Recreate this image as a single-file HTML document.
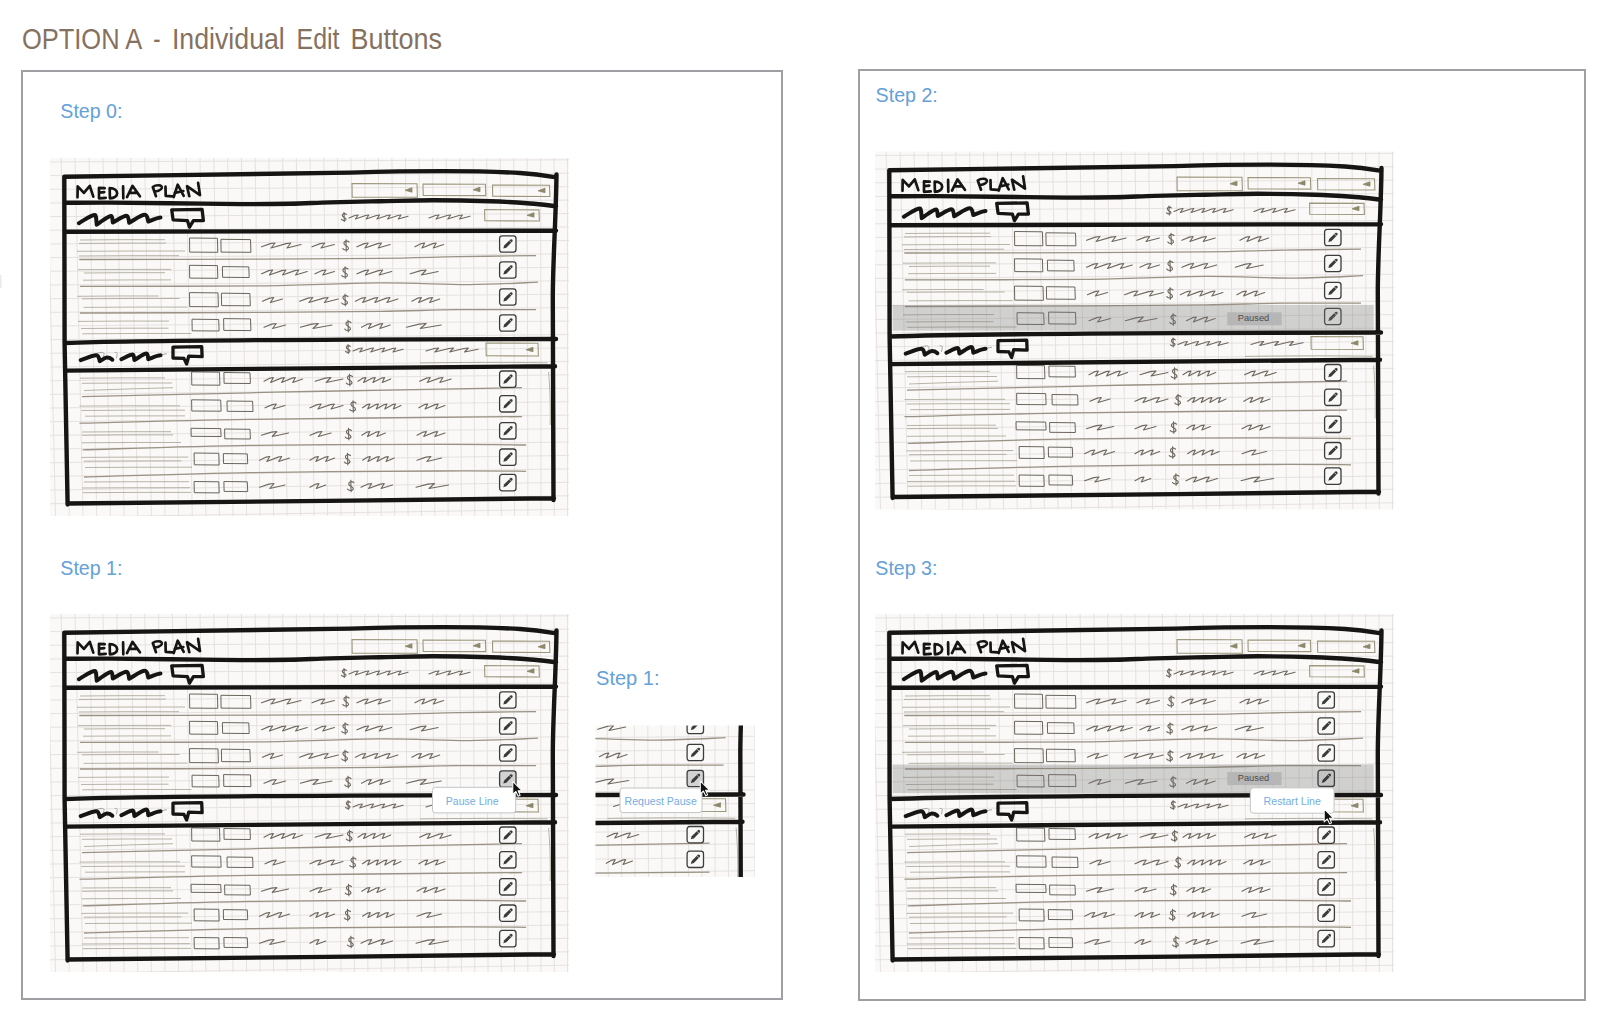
<!DOCTYPE html>
<html><head><meta charset="utf-8"><title>Option A - Individual Edit Buttons</title>
<style>
html,body{margin:0;padding:0;background:#fff;}
body{width:1614px;height:1026px;overflow:hidden;position:relative;font-family:"Liberation Sans",sans-serif;}
svg{position:absolute;left:0;top:0;}
text{font-family:"Liberation Sans",sans-serif;}
</style></head><body>
<svg width="1614" height="1026" viewBox="0 0 1614 1026">
<defs>
<g id="sk">
<rect x="0" y="1" width="519" height="358" fill="#faf9f7"/>
<svg x="0" y="1" width="519" height="358" viewBox="0 1 519 358" overflow="hidden"><path d="M-2.83,1 L5.55,359 M11.14,1 L19.29,359 M25.10,1 L33.01,359 M39.04,1 L46.72,359 M52.97,1 L60.41,359 M66.88,1 L74.09,359 M80.77,1 L87.76,359 M94.66,1 L101.41,359 M108.52,1 L115.04,359 M122.37,1 L128.66,359 M136.21,1 L142.27,359 M150.03,1 L155.87,359 M163.84,1 L169.45,359 M177.63,1 L183.01,359 M191.40,1 L196.56,359 M205.16,1 L210.10,359 M218.91,1 L223.62,359 M232.64,1 L237.13,359 M246.35,1 L250.62,359 M260.05,1 L264.10,359 M273.74,1 L277.57,359 M287.41,1 L291.02,359 M301.06,1 L304.46,359 M314.70,1 L317.88,359 M328.33,1 L331.29,359 M341.94,1 L344.68,359 M355.53,1 L358.06,359 M369.11,1 L371.43,359 M382.67,1 L384.78,359 M396.22,1 L398.12,359 M409.76,1 L411.44,359 M423.28,1 L424.75,359 M436.78,1 L438.04,359 M450.27,1 L451.32,359 M463.74,1 L464.59,359 M477.20,1 L477.84,359 M490.64,1 L491.08,359 M504.07,1 L504.30,359 M517.48,1 L517.51,359 M0,4.92 L519,2.80 M0,18.60 L519,16.24 M0,32.27 L519,29.68 M0,45.94 L519,43.12 M0,59.62 L519,56.56 M0,73.29 L519,70.00 M0,86.96 L519,83.44 M0,100.64 L519,96.88 M0,114.31 L519,110.32 M0,127.98 L519,123.75 M0,141.66 L519,137.19 M0,155.33 L519,150.63 M0,169.01 L519,164.07 M0,182.68 L519,177.51 M0,196.35 L519,190.95 M0,210.03 L519,204.39 M0,223.70 L519,217.83 M0,237.37 L519,231.27 M0,251.05 L519,244.71 M0,264.72 L519,258.15 M0,278.39 L519,271.59 M0,292.07 L519,285.02 M0,305.74 L519,298.46 M0,319.41 L519,311.90 M0,333.09 L519,325.34 M0,346.76 L519,338.78 M0,360.43 L519,352.22" stroke="#e3dfdf" stroke-width="0.9" fill="none"/></svg>
<path d="M498.6,215 C499.8,230 500.6,245 500.2,268 M370,205.9 C420,205.2 470,205.3 497.6,205.9 M30.0,83.0 Q72.5,82.5 115.0,82.7 M29.0,86.4 Q72.5,86.0 116.0,86.1 M27.0,94.3 Q81.0,93.9 135.0,94.0 M29.0,99.0 Q79.0,98.5 129.0,98.7 M28.0,112.7 Q74.5,112.3 121.0,112.4 M34.0,116.0 Q74.5,115.5 115.0,115.7 M33.0,123.2 Q77.0,122.8 121.0,122.9 M27.0,139.3 Q67.8,138.8 108.6,139.0 M32.0,141.8 Q80.8,141.3 129.6,141.5 M33.6,150.4 Q85.6,149.9 137.7,150.1 M28.0,164.4 Q73.5,163.9 119.0,164.1 M31.0,171.5 Q74.8,171.0 118.5,171.2 M32.3,176.8 Q86.8,176.3 141.4,176.5 M30.0,221.2 Q72.5,220.7 115.0,220.9 M32.0,226.3 Q77.0,225.8 122.0,226.0 M34.0,233.5 Q78.5,231.8 123.0,230.7 M29.5,249.1 Q79.8,248.6 130.0,248.8 M31.4,253.5 Q83.2,253.0 135.0,253.2 M35.0,259.2 Q85.0,258.7 135.0,258.9 M32.0,275.0 Q76.5,274.6 121.0,274.7 M32.0,278.2 Q77.5,277.7 123.0,277.9 M32.0,285.8 Q81.5,285.3 131.0,285.5 M31.4,300.4 Q84.9,299.9 138.4,300.1 M34.0,304.2 Q82.8,303.7 131.5,303.9 M35.0,310.5 Q88.5,310.1 142.0,310.2 M34.0,325.0 Q86.5,324.6 139.0,324.7 M32.0,331.0 Q86.0,330.6 140.0,330.7 M32.7,335.7 Q86.8,335.2 141.0,335.4" fill="none" stroke="#9f9889" stroke-width="0.8" opacity="0.9"/>
<path d="M29.3,102.5 C60.2,102.4 164.9,102.3 215.0,102.1 C265.1,101.9 297.8,101.8 330.0,101.4 C362.2,101.0 382.0,100.2 408.0,99.7 C434.0,99.2 473.0,98.8 486.0,98.6 M29.9,129.4 C60.8,129.3 165.0,129.4 215.0,128.8 C265.0,128.2 296.0,126.1 330.0,125.9 C364.0,125.7 392.7,127.7 419.0,127.6 C445.3,127.5 476.5,125.6 488.0,125.2 M29.9,156.0 C60.8,155.9 165.0,155.7 215.0,155.4 C265.0,155.1 297.8,154.9 330.0,154.4 C362.2,153.9 382.0,153.0 408.0,152.7 C434.0,152.4 473.0,152.7 486.0,152.7 M32.0,239.6 C60.0,239.0 162.0,236.7 200.0,235.8 C238.0,235.0 214.7,235.4 260.0,234.5 C305.3,233.6 436.7,231.2 472.0,230.6 M29.5,266.2 C57.9,265.6 126.2,263.5 200.0,262.4 C273.8,261.3 426.7,260.1 472.0,259.6 M32.7,292.8 C60.6,292.1 140.4,289.3 200.0,288.4 C259.6,287.5 344.0,287.4 390.0,287.3 C436.0,287.2 461.7,287.9 476.0,288.0 M34.0,320.0 C61.7,319.3 140.7,316.6 200.0,315.6 C259.3,314.6 344.0,314.2 390.0,314.0 C436.0,313.8 461.7,314.2 476.0,314.3" fill="none" stroke="#9a9284" stroke-width="1.3"/>
<path d="M139.5,81.0 L167.4,81.3 L167.8,95.3 L139.7,95.1 Z M170.9,82.3 L200.5,82.6 L200.9,95.3 L171.1,95.1 Z M139.5,108.3 L167.4,108.6 L167.8,121.3 L139.7,121.1 Z M172.4,109.6 L198.8,109.9 L199.2,120.5 L172.6,120.3 Z M139.5,135.6 L168.0,135.9 L168.4,149.8 L139.7,149.6 Z M171.4,136.2 L199.9,136.5 L200.3,148.8 L171.6,148.6 Z M142.0,162.2 L168.7,162.5 L169.1,174.0 L142.2,173.8 Z M173.6,161.6 L200.5,161.9 L200.9,173.6 L173.8,173.4 Z M141.6,214.9 L169.5,215.2 L169.9,228.2 L141.8,228.0 Z M173.9,215.5 L200.0,215.8 L200.4,226.5 L174.1,226.3 Z M141.6,242.8 L170.7,243.1 L171.1,254.2 L141.8,254.0 Z M177.0,244.0 L202.6,244.3 L203.0,254.5 L177.2,254.3 Z M141.0,271.3 L170.7,271.6 L171.1,279.5 L141.2,279.3 Z M174.6,272.0 L200.0,272.3 L200.4,282.0 L174.8,281.8 Z M144.1,296.0 L168.8,296.3 L169.2,308.0 L144.3,307.8 Z M173.3,296.6 L197.3,296.9 L197.7,306.7 L173.5,306.5 Z M144.1,324.5 L168.8,324.8 L169.2,335.9 L144.3,335.7 Z M173.9,324.5 L197.3,324.8 L197.7,334.6 L174.1,334.4 Z" fill="none" stroke="#6a655d" stroke-width="1.0"/>
<path d="M296.3,57.3 C294.9,55.9 291.5,56.8 292.6,59.1 C293.6,60.7 296.7,60.5 295.8,62.7 C294.9,64.1 292.2,63.6 291.5,62.3 M294.0,55.5 L294.3,64.5 M299.0,61.0 L304.9,58.5 L308.1,58.0 L305.4,62.0 L315.6,58.5 L318.8,58.0 L316.2,62.0 L326.4,58.5 L329.6,58.0 L326.9,62.0 L337.1,58.5 L340.3,58.0 L337.6,62.0 L347.8,58.5 L351.0,58.0 L348.3,62.0 L358.0,59.2 M379.0,61.0 L385.4,58.5 L389.0,58.0 L386.0,62.0 L397.2,58.5 L400.7,58.0 L397.7,62.0 L408.9,58.5 L412.4,58.0 L409.5,62.0 L420.0,59.2 M300.3,189.3 C298.9,187.9 295.5,188.8 296.6,191.1 C297.6,192.7 300.7,192.4 299.8,194.7 C298.9,196.1 296.2,195.6 295.5,194.3 M298.0,187.5 L298.3,196.5 M303.0,194.0 L309.1,191.5 L312.4,191.0 L309.7,195.0 L320.2,191.5 L323.6,191.0 L320.8,195.0 L331.3,191.5 L334.7,191.0 L331.9,195.0 L342.4,191.5 L345.8,191.0 L343.0,195.0 L353.0,192.2 M376.0,194.0 L384.2,191.5 L388.6,191.0 L384.9,195.0 L399.0,191.5 L403.5,191.0 L399.8,195.0 L413.9,191.5 L418.3,191.0 L414.6,195.0 L428.0,192.2 M211.6,89.8 L220.3,86.6 L225.0,86.0 L221.1,91.0 L236.1,86.6 L240.8,86.0 L236.9,91.0 L251.1,87.5 M262.0,89.8 L270.2,86.6 L274.7,86.0 L271.0,91.0 L284.4,87.5 M306.9,89.8 L314.2,86.6 L318.2,86.0 L314.9,91.0 L327.5,86.6 L331.5,86.0 L328.2,91.0 L340.2,87.5 M365.0,89.8 L371.3,86.6 L374.7,86.0 L371.9,91.0 L382.7,86.6 L386.2,86.0 L383.3,91.0 L393.6,87.5 M299.0,85.0 C297.1,83.2 292.8,84.4 294.3,87.3 C295.4,89.4 299.4,89.1 298.3,92.0 C297.1,93.8 293.7,93.1 292.8,91.5 M296.0,82.8 L296.3,94.2 M211.6,116.8 L218.8,113.6 L222.7,113.0 L219.4,118.0 L231.8,113.6 L235.8,113.0 L232.5,118.0 L244.9,113.6 L248.8,113.0 L245.5,118.0 L257.3,114.5 M265.0,116.8 L272.1,113.6 L276.0,113.0 L272.8,118.0 L284.4,114.5 M306.9,116.8 L314.6,113.6 L318.7,113.0 L315.3,118.0 L328.5,113.6 L332.7,113.0 L329.2,118.0 L341.7,114.5 M360.3,116.8 L370.5,113.6 L376.1,113.0 L371.5,118.0 L388.2,114.5 M298.0,112.0 C296.1,110.2 291.8,111.4 293.3,114.3 C294.4,116.4 298.4,116.1 297.3,119.0 C296.1,120.8 292.7,120.1 291.8,118.5 M295.0,109.8 L295.3,121.2 M212.4,144.2 L219.8,141.1 L223.8,140.5 L220.4,145.5 L232.5,142.0 M249.6,144.2 L258.1,141.1 L262.8,140.5 L258.9,145.5 L273.6,141.1 L278.2,140.5 L274.4,145.5 L288.3,142.0 M305.3,144.2 L312.0,141.1 L315.6,140.5 L312.6,145.5 L324.2,141.1 L327.8,140.5 L324.8,145.5 L336.3,141.1 L340.0,140.5 L336.9,145.5 L347.9,142.0 M361.9,144.2 L368.0,141.1 L371.4,140.5 L368.6,145.5 L379.1,141.1 L382.5,140.5 L379.7,145.5 L389.7,142.0 M298.0,139.6 C296.1,137.7 291.8,138.9 293.3,141.8 C294.4,143.9 298.4,143.6 297.3,146.4 C296.1,148.3 292.7,147.6 291.8,146.0 M295.0,137.2 L295.3,148.8 M214.0,170.2 L221.9,167.1 L226.2,166.5 L222.6,171.5 L235.6,168.0 M250.3,170.2 L261.9,167.1 L268.3,166.5 L263.0,171.5 L282.0,168.0 M311.5,170.2 L317.8,167.1 L321.3,166.5 L318.4,171.5 L329.3,167.1 L332.7,166.5 L329.9,171.5 L340.2,168.0 M356.4,170.2 L369.2,167.1 L376.2,166.5 L370.4,171.5 L391.3,168.0 M301.0,165.6 C299.1,163.7 294.8,164.9 296.3,167.8 C297.4,169.9 301.4,169.6 300.3,172.4 C299.1,174.3 295.7,173.6 294.8,172.0 M298.0,163.2 L298.3,174.8 M214.0,224.2 L220.1,221.1 L223.4,220.5 L220.6,225.5 L231.1,221.1 L234.4,220.5 L231.6,225.5 L242.1,221.1 L245.4,220.5 L242.7,225.5 L252.6,222.0 M265.0,224.2 L275.3,221.1 L280.9,220.5 L276.2,225.5 L293.0,222.0 M308.0,224.2 L313.1,221.1 L315.9,220.5 L313.6,225.5 L322.5,221.1 L325.3,220.5 L322.9,225.5 L331.8,221.1 L334.6,220.5 L332.3,225.5 L340.7,222.0 M369.6,224.2 L376.6,221.1 L380.3,220.5 L377.2,225.5 L389.2,221.1 L393.0,220.5 L389.8,225.5 L401.2,222.0 M302.5,219.6 C300.6,217.7 296.3,218.9 297.8,221.8 C298.9,223.9 302.9,223.6 301.8,226.4 C300.6,228.3 297.2,227.6 296.3,226.0 M299.5,217.2 L299.8,228.8 M215.0,250.8 L222.3,247.6 L226.3,247.0 L223.0,252.0 L235.0,248.5 M260.0,250.8 L267.3,247.6 L271.2,247.0 L267.9,252.0 L280.5,247.6 L284.4,247.0 L281.1,252.0 L293.0,248.5 M312.6,250.8 L317.3,247.6 L319.9,247.0 L317.7,252.0 L325.8,247.6 L328.4,247.0 L326.3,252.0 L334.4,247.6 L336.9,247.0 L334.8,252.0 L342.9,247.6 L345.5,247.0 L343.3,252.0 L351.0,248.5 M368.8,250.8 L374.6,247.6 L377.7,247.0 L375.1,252.0 L385.0,247.6 L388.2,247.0 L385.6,252.0 L395.0,248.5 M306.0,246.1 C304.1,244.2 299.8,245.4 301.3,248.3 C302.4,250.4 306.4,250.1 305.3,252.9 C304.1,254.8 300.7,254.1 299.8,252.5 M303.0,243.8 L303.3,255.2 M211.4,278.2 L221.4,275.1 L226.8,274.5 L222.3,279.5 L238.6,276.0 M260.0,278.2 L267.7,275.1 L271.9,274.5 L268.4,279.5 L281.0,276.0 M311.8,278.2 L317.0,275.1 L319.8,274.5 L317.5,279.5 L326.4,275.1 L329.3,274.5 L326.9,279.5 L335.4,276.0 M367.0,278.2 L373.2,275.1 L376.5,274.5 L373.7,279.5 L384.4,275.1 L387.7,274.5 L384.9,279.5 L395.0,276.0 M301.5,273.6 C299.6,271.7 295.3,272.9 296.8,275.9 C297.9,277.9 301.9,277.6 300.8,280.4 C299.6,282.3 296.2,281.6 295.3,280.0 M298.5,271.2 L298.8,282.8 M209.6,303.2 L216.2,300.1 L219.8,299.5 L216.8,304.5 L228.1,300.1 L231.7,299.5 L228.7,304.5 L239.5,301.0 M260.0,303.2 L265.4,300.1 L268.4,299.5 L265.9,304.5 L275.3,300.1 L278.2,299.5 L275.7,304.5 L284.6,301.0 M312.6,303.2 L317.6,300.1 L320.3,299.5 L318.0,304.5 L326.6,300.1 L329.3,299.5 L327.0,304.5 L335.6,300.1 L338.3,299.5 L336.1,304.5 L344.2,301.0 M367.0,303.2 L376.0,300.1 L380.9,299.5 L376.8,304.5 L391.6,301.0 M300.5,298.6 C298.6,296.7 294.3,297.9 295.8,300.9 C296.9,302.9 300.9,302.6 299.8,305.4 C298.6,307.3 295.2,306.6 294.3,305.0 M297.5,296.2 L297.8,307.8 M209.6,330.2 L218.9,327.1 L224.0,326.5 L219.8,331.5 L235.0,328.0 M260.0,330.2 L265.8,327.1 L269.0,326.5 L266.3,331.5 L275.8,328.0 M311.0,330.2 L317.9,327.1 L321.7,326.5 L318.6,331.5 L330.5,327.1 L334.3,326.5 L331.2,331.5 L342.5,328.0 M366.0,330.2 L378.0,327.1 L384.5,326.5 L379.0,331.5 L398.6,328.0 M303.8,325.6 C301.9,323.7 297.6,324.9 299.1,327.9 C300.2,329.9 304.2,329.6 303.1,332.4 C301.9,334.3 298.5,333.6 297.6,332.0 M300.8,323.2 L301.1,334.8" fill="none" stroke="#6f695f" stroke-width="1.15" stroke-linejoin="round" stroke-linecap="round"/>
<path d="M302.0,26.5 L367.0,26.8 L367.4,40.3 L302.2,40.1 Z M373.0,27.0 L435.4,27.3 L435.8,38.6 L373.2,38.4 Z M442.5,28.0 L499.5,28.3 L499.9,39.5 L442.7,39.3 Z M434.6,52.6 L489.0,52.9 L489.4,64.0 L434.8,63.8 Z M436.0,186.0 L488.0,186.3 L488.4,199.0 L436.2,198.8 Z" fill="none" stroke="#9c977c" stroke-width="1.1"/>
<path d="M355.0,33.3 L362.0,30.7 L362.0,35.2 Z M423.0,32.8 L430.0,30.2 L430.0,34.7 Z M488.0,33.8 L495.0,31.2 L495.0,35.7 Z M477.0,58.3 L484.0,55.7 L484.0,60.2 Z M476.0,192.8 L483.0,190.2 L483.0,194.7 Z" fill="#8d886a" stroke="#8d886a" stroke-width="0.8" stroke-linejoin="round"/>
<path d="M14.3,19.7 C110,18.5 220,16.8 300,15.6 C370,13.6 430,13.6 470,16 C490,17.5 500,19.5 506.5,20.5 M506.5,17.5 C506,60 503,100 502.8,140 C502.8,220 503.2,300 503.5,343 M14.3,19.7 C14,100 14.3,160 14.6,186 C15.5,260 16.8,320 17.6,347.5 M17.5,346.5 C150,345.2 350,343.2 504,341.3 M14.5,45.8 C22.1,45.8 42.4,45.5 60.0,45.6 C77.6,45.7 98.3,46.0 120.0,46.2 C141.7,46.5 170.0,47.0 190.0,47.1 C210.0,47.2 225.0,47.1 240.0,46.8 C255.0,46.5 265.0,45.8 280.0,45.4 C295.0,45.0 312.8,44.6 330.0,44.2 C347.2,43.9 364.7,43.3 383.0,43.3 C401.3,43.3 423.8,43.7 440.0,44.2 C456.2,44.7 469.0,45.7 480.0,46.5 C491.0,47.3 501.7,48.8 506.0,49.2 M14.5,74.8 C150,73.8 300,73 506,73.6 M14.8,186 C60,184.3 150,183.3 300,182.6 C400,182.2 470,182 506,182 M15.5,213.6 C100,212 300,209.6 505,209.2" fill="none" stroke="#161514" stroke-width="4.4" stroke-linecap="round" stroke-linejoin="round"/>
<path d="M27.5,40.3 L27.7,29.4 L33.9,35.9 L39.8,28.9 L43.3,39.6 M54.7,31.2 L49.0,30.9 L49.0,41.3 L55.7,40.8 M49.5,35.6 L54.2,35.1 M59.7,31.2 L59.9,41.3 M59.7,31.2 C69.6,31.7 69.6,40.8 59.9,41.3 M73.1,29.4 L73.3,41.3 M77.0,40.1 L82.5,28.9 L89.9,39.3 M79.5,35.9 L86.9,35.6 M106,39.2 L102.8,30 C106,27.5 112.5,27.5 111.8,31 C111,33.8 106,34.4 104.7,34.3 M115.5,29.7 L115.7,38.8 L122.5,39.4 M123.7,40.0 L127.7,27.7 L133.7,38.8 M124.8,35.9 L133.3,34.0 M139.3,39.2 L137.0,29.2 L150.0,38.1 L148.1,25.8" fill="none" stroke="#161514" stroke-width="2.7" stroke-linecap="round" stroke-linejoin="round"/>
<path d="M43.5,197.5 C50,195 57,193.5 53,200 M65,195.5 C67,195 68,195 66.5,201 M110,198 L116.5,196.8" fill="none" stroke="#a39d90" stroke-width="0.9" stroke-linecap="round"/>
<path d="M28.9,66.2 C35.3,62.5 41.0,58.0 45.0,58.0 C46.2,58.0 46.4,63.8 46.7,67.7 C52.6,63.7 57.8,58.9 61.5,58.9 C62.4,58.9 62.5,62.9 62.8,65.6 C68.3,62.5 73.1,58.7 76.6,58.7 C78.4,58.7 78.7,63.0 79.2,65.8 C85.5,62.2 91.0,57.8 94.9,57.8 C97.3,57.8 97.6,61.8 98.3,64.5 C103.2,62.7 107.5,60.4 110.5,60.4 M30.7,203.1 C36.9,200.9 42.4,198.2 46.3,198.2 C48.8,198.2 49.1,201.8 49.8,204.2 C52.6,202.5 55.0,200.5 56.7,200.5 C60.6,200.5 61.2,201.8 62.3,202.7 M71.4,202.2 C75.9,200.1 79.9,197.5 82.7,197.5 C83.9,197.5 84.1,200.9 84.4,203.1 C89.3,200.2 93.5,196.6 96.6,196.6 C97.8,196.6 98.0,200.0 98.3,202.2 C103.2,200.4 107.5,198.3 110.5,198.3" fill="none" stroke="#161514" stroke-width="4" stroke-linecap="round" stroke-linejoin="round"/>
<path d="M137.4,63.6 L123.1,62.8 L121.7,52.8 L152.1,52.4 L153.4,63.6 L143.4,63.6 L139.5,70.2 L137.4,63.6 M133.9,201.4 L123.0,201.0 L123.0,190.1 L151.7,189.7 L152.1,199.6 L138.7,199.2 L136.6,207.0 L133.9,201.4" fill="none" stroke="#161514" stroke-width="3.3" stroke-linecap="round" stroke-linejoin="round"/>
</g>
<clipPath id="crop"><rect x="358" y="113" width="159.5" height="151.5"/></clipPath>
</defs>
<rect x="0" y="0" width="1614" height="1026" fill="#ffffff"/>
<rect x="0" y="275" width="1.5" height="13" fill="#ebe9e6"/>
<text x="21.90" y="49" font-size="28.6" fill="#857160" textLength="120.35" lengthAdjust="spacingAndGlyphs">OPTION A</text><text x="153.30" y="49" font-size="28.6" fill="#857160" textLength="7.26" lengthAdjust="spacingAndGlyphs">-</text><text x="171.90" y="49" font-size="28.6" fill="#857160" textLength="112.91" lengthAdjust="spacingAndGlyphs">Individual</text><text x="296.60" y="49" font-size="28.6" fill="#857160" textLength="42.96" lengthAdjust="spacingAndGlyphs">Edit</text><text x="350.50" y="49" font-size="28.6" fill="#857160" textLength="91.53" lengthAdjust="spacingAndGlyphs">Buttons</text>
<rect x="22" y="71" width="760" height="928" fill="none" stroke="#9d9fa3" stroke-width="2"/>
<rect x="859" y="70" width="726" height="930" fill="none" stroke="#9d9fa3" stroke-width="2"/>
<g font-size="20" fill="#64a1d9">
<text x="60.30" y="118.2" font-size="20" fill="#64a1d9" textLength="62.18" lengthAdjust="spacingAndGlyphs">Step 0:</text><text x="60.30" y="574.8" font-size="20" fill="#64a1d9" textLength="62.18" lengthAdjust="spacingAndGlyphs">Step 1:</text><text x="875.60" y="102.4" font-size="20" fill="#64a1d9" textLength="62.18" lengthAdjust="spacingAndGlyphs">Step 2:</text><text x="875.30" y="574.8" font-size="20" fill="#64a1d9" textLength="62.18" lengthAdjust="spacingAndGlyphs">Step 3:</text><text x="596.00" y="685.2" font-size="20" fill="#64a1d9" textLength="63.58" lengthAdjust="spacingAndGlyphs">Step 1:</text>
</g>

<g transform="translate(50,157)"><use href="#sk"/><g transform="translate(449.0,78.2)"><rect x="0.6" y="0.6" width="16.4" height="16.4" rx="2.6" fill="#f8f8f7" stroke="#3c3c3c" stroke-width="1.3"/><path d="M4.3,13.4 L5.2,10.4 L11.3,4.3 Q12.2,3.6 13.1,4.4 L13.3,4.6 Q14,5.5 13.3,6.4 L7.3,12.5 Z" fill="#3a3a3a"/><path d="M10.4,5.3 L12.4,7.3" stroke="#f8f8f7" stroke-width="0.7"/></g>
<g transform="translate(449.0,104.2)"><rect x="0.6" y="0.6" width="16.4" height="16.4" rx="2.6" fill="#f8f8f7" stroke="#3c3c3c" stroke-width="1.3"/><path d="M4.3,13.4 L5.2,10.4 L11.3,4.3 Q12.2,3.6 13.1,4.4 L13.3,4.6 Q14,5.5 13.3,6.4 L7.3,12.5 Z" fill="#3a3a3a"/><path d="M10.4,5.3 L12.4,7.3" stroke="#f8f8f7" stroke-width="0.7"/></g>
<g transform="translate(449.0,131.2)"><rect x="0.6" y="0.6" width="16.4" height="16.4" rx="2.6" fill="#f8f8f7" stroke="#3c3c3c" stroke-width="1.3"/><path d="M4.3,13.4 L5.2,10.4 L11.3,4.3 Q12.2,3.6 13.1,4.4 L13.3,4.6 Q14,5.5 13.3,6.4 L7.3,12.5 Z" fill="#3a3a3a"/><path d="M10.4,5.3 L12.4,7.3" stroke="#f8f8f7" stroke-width="0.7"/></g>
<g transform="translate(449.0,157.2)"><rect x="0.6" y="0.6" width="16.4" height="16.4" rx="2.6" fill="#f8f8f7" stroke="#3c3c3c" stroke-width="1.3"/><path d="M4.3,13.4 L5.2,10.4 L11.3,4.3 Q12.2,3.6 13.1,4.4 L13.3,4.6 Q14,5.5 13.3,6.4 L7.3,12.5 Z" fill="#3a3a3a"/><path d="M10.4,5.3 L12.4,7.3" stroke="#f8f8f7" stroke-width="0.7"/></g>
<g transform="translate(449.0,213.4)"><rect x="0.6" y="0.6" width="16.4" height="16.4" rx="2.6" fill="#f8f8f7" stroke="#3c3c3c" stroke-width="1.3"/><path d="M4.3,13.4 L5.2,10.4 L11.3,4.3 Q12.2,3.6 13.1,4.4 L13.3,4.6 Q14,5.5 13.3,6.4 L7.3,12.5 Z" fill="#3a3a3a"/><path d="M10.4,5.3 L12.4,7.3" stroke="#f8f8f7" stroke-width="0.7"/></g>
<g transform="translate(449.0,238.0)"><rect x="0.6" y="0.6" width="16.4" height="16.4" rx="2.6" fill="#f8f8f7" stroke="#3c3c3c" stroke-width="1.3"/><path d="M4.3,13.4 L5.2,10.4 L11.3,4.3 Q12.2,3.6 13.1,4.4 L13.3,4.6 Q14,5.5 13.3,6.4 L7.3,12.5 Z" fill="#3a3a3a"/><path d="M10.4,5.3 L12.4,7.3" stroke="#f8f8f7" stroke-width="0.7"/></g>
<g transform="translate(449.0,265.0)"><rect x="0.6" y="0.6" width="16.4" height="16.4" rx="2.6" fill="#f8f8f7" stroke="#3c3c3c" stroke-width="1.3"/><path d="M4.3,13.4 L5.2,10.4 L11.3,4.3 Q12.2,3.6 13.1,4.4 L13.3,4.6 Q14,5.5 13.3,6.4 L7.3,12.5 Z" fill="#3a3a3a"/><path d="M10.4,5.3 L12.4,7.3" stroke="#f8f8f7" stroke-width="0.7"/></g>
<g transform="translate(449.0,291.4)"><rect x="0.6" y="0.6" width="16.4" height="16.4" rx="2.6" fill="#f8f8f7" stroke="#3c3c3c" stroke-width="1.3"/><path d="M4.3,13.4 L5.2,10.4 L11.3,4.3 Q12.2,3.6 13.1,4.4 L13.3,4.6 Q14,5.5 13.3,6.4 L7.3,12.5 Z" fill="#3a3a3a"/><path d="M10.4,5.3 L12.4,7.3" stroke="#f8f8f7" stroke-width="0.7"/></g>
<g transform="translate(449.0,316.8)"><rect x="0.6" y="0.6" width="16.4" height="16.4" rx="2.6" fill="#f8f8f7" stroke="#3c3c3c" stroke-width="1.3"/><path d="M4.3,13.4 L5.2,10.4 L11.3,4.3 Q12.2,3.6 13.1,4.4 L13.3,4.6 Q14,5.5 13.3,6.4 L7.3,12.5 Z" fill="#3a3a3a"/><path d="M10.4,5.3 L12.4,7.3" stroke="#f8f8f7" stroke-width="0.7"/></g></g>
<g transform="translate(50,613)"><use href="#sk"/><g transform="translate(449.0,78.2)"><rect x="0.6" y="0.6" width="16.4" height="16.4" rx="2.6" fill="#f8f8f7" stroke="#3c3c3c" stroke-width="1.3"/><path d="M4.3,13.4 L5.2,10.4 L11.3,4.3 Q12.2,3.6 13.1,4.4 L13.3,4.6 Q14,5.5 13.3,6.4 L7.3,12.5 Z" fill="#3a3a3a"/><path d="M10.4,5.3 L12.4,7.3" stroke="#f8f8f7" stroke-width="0.7"/></g>
<g transform="translate(449.0,104.2)"><rect x="0.6" y="0.6" width="16.4" height="16.4" rx="2.6" fill="#f8f8f7" stroke="#3c3c3c" stroke-width="1.3"/><path d="M4.3,13.4 L5.2,10.4 L11.3,4.3 Q12.2,3.6 13.1,4.4 L13.3,4.6 Q14,5.5 13.3,6.4 L7.3,12.5 Z" fill="#3a3a3a"/><path d="M10.4,5.3 L12.4,7.3" stroke="#f8f8f7" stroke-width="0.7"/></g>
<g transform="translate(449.0,131.2)"><rect x="0.6" y="0.6" width="16.4" height="16.4" rx="2.6" fill="#f8f8f7" stroke="#3c3c3c" stroke-width="1.3"/><path d="M4.3,13.4 L5.2,10.4 L11.3,4.3 Q12.2,3.6 13.1,4.4 L13.3,4.6 Q14,5.5 13.3,6.4 L7.3,12.5 Z" fill="#3a3a3a"/><path d="M10.4,5.3 L12.4,7.3" stroke="#f8f8f7" stroke-width="0.7"/></g>
<g transform="translate(449.0,157.2)"><rect x="0.6" y="0.6" width="16.4" height="16.4" rx="2.6" fill="#d2d2d2" stroke="#3c3c3c" stroke-width="1.3"/><path d="M4.3,13.4 L5.2,10.4 L11.3,4.3 Q12.2,3.6 13.1,4.4 L13.3,4.6 Q14,5.5 13.3,6.4 L7.3,12.5 Z" fill="#3a3a3a"/><path d="M10.4,5.3 L12.4,7.3" stroke="#d2d2d2" stroke-width="0.7"/></g>
<g transform="translate(449.0,213.4)"><rect x="0.6" y="0.6" width="16.4" height="16.4" rx="2.6" fill="#f8f8f7" stroke="#3c3c3c" stroke-width="1.3"/><path d="M4.3,13.4 L5.2,10.4 L11.3,4.3 Q12.2,3.6 13.1,4.4 L13.3,4.6 Q14,5.5 13.3,6.4 L7.3,12.5 Z" fill="#3a3a3a"/><path d="M10.4,5.3 L12.4,7.3" stroke="#f8f8f7" stroke-width="0.7"/></g>
<g transform="translate(449.0,238.0)"><rect x="0.6" y="0.6" width="16.4" height="16.4" rx="2.6" fill="#f8f8f7" stroke="#3c3c3c" stroke-width="1.3"/><path d="M4.3,13.4 L5.2,10.4 L11.3,4.3 Q12.2,3.6 13.1,4.4 L13.3,4.6 Q14,5.5 13.3,6.4 L7.3,12.5 Z" fill="#3a3a3a"/><path d="M10.4,5.3 L12.4,7.3" stroke="#f8f8f7" stroke-width="0.7"/></g>
<g transform="translate(449.0,265.0)"><rect x="0.6" y="0.6" width="16.4" height="16.4" rx="2.6" fill="#f8f8f7" stroke="#3c3c3c" stroke-width="1.3"/><path d="M4.3,13.4 L5.2,10.4 L11.3,4.3 Q12.2,3.6 13.1,4.4 L13.3,4.6 Q14,5.5 13.3,6.4 L7.3,12.5 Z" fill="#3a3a3a"/><path d="M10.4,5.3 L12.4,7.3" stroke="#f8f8f7" stroke-width="0.7"/></g>
<g transform="translate(449.0,291.4)"><rect x="0.6" y="0.6" width="16.4" height="16.4" rx="2.6" fill="#f8f8f7" stroke="#3c3c3c" stroke-width="1.3"/><path d="M4.3,13.4 L5.2,10.4 L11.3,4.3 Q12.2,3.6 13.1,4.4 L13.3,4.6 Q14,5.5 13.3,6.4 L7.3,12.5 Z" fill="#3a3a3a"/><path d="M10.4,5.3 L12.4,7.3" stroke="#f8f8f7" stroke-width="0.7"/></g>
<g transform="translate(449.0,316.8)"><rect x="0.6" y="0.6" width="16.4" height="16.4" rx="2.6" fill="#f8f8f7" stroke="#3c3c3c" stroke-width="1.3"/><path d="M4.3,13.4 L5.2,10.4 L11.3,4.3 Q12.2,3.6 13.1,4.4 L13.3,4.6 Q14,5.5 13.3,6.4 L7.3,12.5 Z" fill="#3a3a3a"/><path d="M10.4,5.3 L12.4,7.3" stroke="#f8f8f7" stroke-width="0.7"/></g><rect x="382.5" y="174.3" width="83.2" height="25.6" rx="3" fill="#ffffff" stroke="#c4c4c4" stroke-width="1"/><text x="395.80" y="192" font-size="10.5" fill="#74addf" textLength="52.79" lengthAdjust="spacingAndGlyphs">Pause Line</text><path transform="translate(462.8,168.5) scale(1.12)" d="M0,0 L0,11.5 L2.8,8.9 L4.8,13.2 L6.6,12.4 L4.7,8.3 L8.4,8.3 Z" fill="#111" stroke="#fff" stroke-width="0.9" stroke-linejoin="round"/></g>
<g transform="translate(237.5,612.5)"><g clip-path="url(#crop)"><use href="#sk"/><g transform="translate(449.0,78.2)"><rect x="0.6" y="0.6" width="16.4" height="16.4" rx="2.6" fill="#f8f8f7" stroke="#3c3c3c" stroke-width="1.3"/><path d="M4.3,13.4 L5.2,10.4 L11.3,4.3 Q12.2,3.6 13.1,4.4 L13.3,4.6 Q14,5.5 13.3,6.4 L7.3,12.5 Z" fill="#3a3a3a"/><path d="M10.4,5.3 L12.4,7.3" stroke="#f8f8f7" stroke-width="0.7"/></g>
<g transform="translate(449.0,104.2)"><rect x="0.6" y="0.6" width="16.4" height="16.4" rx="2.6" fill="#f8f8f7" stroke="#3c3c3c" stroke-width="1.3"/><path d="M4.3,13.4 L5.2,10.4 L11.3,4.3 Q12.2,3.6 13.1,4.4 L13.3,4.6 Q14,5.5 13.3,6.4 L7.3,12.5 Z" fill="#3a3a3a"/><path d="M10.4,5.3 L12.4,7.3" stroke="#f8f8f7" stroke-width="0.7"/></g>
<g transform="translate(449.0,131.2)"><rect x="0.6" y="0.6" width="16.4" height="16.4" rx="2.6" fill="#f8f8f7" stroke="#3c3c3c" stroke-width="1.3"/><path d="M4.3,13.4 L5.2,10.4 L11.3,4.3 Q12.2,3.6 13.1,4.4 L13.3,4.6 Q14,5.5 13.3,6.4 L7.3,12.5 Z" fill="#3a3a3a"/><path d="M10.4,5.3 L12.4,7.3" stroke="#f8f8f7" stroke-width="0.7"/></g>
<g transform="translate(449.0,157.2)"><rect x="0.6" y="0.6" width="16.4" height="16.4" rx="2.6" fill="#d2d2d2" stroke="#3c3c3c" stroke-width="1.3"/><path d="M4.3,13.4 L5.2,10.4 L11.3,4.3 Q12.2,3.6 13.1,4.4 L13.3,4.6 Q14,5.5 13.3,6.4 L7.3,12.5 Z" fill="#3a3a3a"/><path d="M10.4,5.3 L12.4,7.3" stroke="#d2d2d2" stroke-width="0.7"/></g>
<g transform="translate(449.0,213.4)"><rect x="0.6" y="0.6" width="16.4" height="16.4" rx="2.6" fill="#f8f8f7" stroke="#3c3c3c" stroke-width="1.3"/><path d="M4.3,13.4 L5.2,10.4 L11.3,4.3 Q12.2,3.6 13.1,4.4 L13.3,4.6 Q14,5.5 13.3,6.4 L7.3,12.5 Z" fill="#3a3a3a"/><path d="M10.4,5.3 L12.4,7.3" stroke="#f8f8f7" stroke-width="0.7"/></g>
<g transform="translate(449.0,238.0)"><rect x="0.6" y="0.6" width="16.4" height="16.4" rx="2.6" fill="#f8f8f7" stroke="#3c3c3c" stroke-width="1.3"/><path d="M4.3,13.4 L5.2,10.4 L11.3,4.3 Q12.2,3.6 13.1,4.4 L13.3,4.6 Q14,5.5 13.3,6.4 L7.3,12.5 Z" fill="#3a3a3a"/><path d="M10.4,5.3 L12.4,7.3" stroke="#f8f8f7" stroke-width="0.7"/></g>
<g transform="translate(449.0,265.0)"><rect x="0.6" y="0.6" width="16.4" height="16.4" rx="2.6" fill="#f8f8f7" stroke="#3c3c3c" stroke-width="1.3"/><path d="M4.3,13.4 L5.2,10.4 L11.3,4.3 Q12.2,3.6 13.1,4.4 L13.3,4.6 Q14,5.5 13.3,6.4 L7.3,12.5 Z" fill="#3a3a3a"/><path d="M10.4,5.3 L12.4,7.3" stroke="#f8f8f7" stroke-width="0.7"/></g>
<g transform="translate(449.0,291.4)"><rect x="0.6" y="0.6" width="16.4" height="16.4" rx="2.6" fill="#f8f8f7" stroke="#3c3c3c" stroke-width="1.3"/><path d="M4.3,13.4 L5.2,10.4 L11.3,4.3 Q12.2,3.6 13.1,4.4 L13.3,4.6 Q14,5.5 13.3,6.4 L7.3,12.5 Z" fill="#3a3a3a"/><path d="M10.4,5.3 L12.4,7.3" stroke="#f8f8f7" stroke-width="0.7"/></g>
<g transform="translate(449.0,316.8)"><rect x="0.6" y="0.6" width="16.4" height="16.4" rx="2.6" fill="#f8f8f7" stroke="#3c3c3c" stroke-width="1.3"/><path d="M4.3,13.4 L5.2,10.4 L11.3,4.3 Q12.2,3.6 13.1,4.4 L13.3,4.6 Q14,5.5 13.3,6.4 L7.3,12.5 Z" fill="#3a3a3a"/><path d="M10.4,5.3 L12.4,7.3" stroke="#f8f8f7" stroke-width="0.7"/></g><rect x="382.5" y="175.5" width="82.0" height="24.6" rx="3" fill="#ffffff" stroke="#c4c4c4" stroke-width="1"/><text x="387.00" y="192.8" font-size="10.5" fill="#74addf" textLength="72.28" lengthAdjust="spacingAndGlyphs">Request Pause</text><path transform="translate(462.8,168.5) scale(1.12)" d="M0,0 L0,11.5 L2.8,8.9 L4.8,13.2 L6.6,12.4 L4.7,8.3 L8.4,8.3 Z" fill="#111" stroke="#fff" stroke-width="0.9" stroke-linejoin="round"/></g></g>
<g transform="translate(875,150.5)"><use href="#sk"/><g transform="translate(449.0,78.2)"><rect x="0.6" y="0.6" width="16.4" height="16.4" rx="2.6" fill="#f8f8f7" stroke="#3c3c3c" stroke-width="1.3"/><path d="M4.3,13.4 L5.2,10.4 L11.3,4.3 Q12.2,3.6 13.1,4.4 L13.3,4.6 Q14,5.5 13.3,6.4 L7.3,12.5 Z" fill="#3a3a3a"/><path d="M10.4,5.3 L12.4,7.3" stroke="#f8f8f7" stroke-width="0.7"/></g>
<g transform="translate(449.0,104.2)"><rect x="0.6" y="0.6" width="16.4" height="16.4" rx="2.6" fill="#f8f8f7" stroke="#3c3c3c" stroke-width="1.3"/><path d="M4.3,13.4 L5.2,10.4 L11.3,4.3 Q12.2,3.6 13.1,4.4 L13.3,4.6 Q14,5.5 13.3,6.4 L7.3,12.5 Z" fill="#3a3a3a"/><path d="M10.4,5.3 L12.4,7.3" stroke="#f8f8f7" stroke-width="0.7"/></g>
<g transform="translate(449.0,131.2)"><rect x="0.6" y="0.6" width="16.4" height="16.4" rx="2.6" fill="#f8f8f7" stroke="#3c3c3c" stroke-width="1.3"/><path d="M4.3,13.4 L5.2,10.4 L11.3,4.3 Q12.2,3.6 13.1,4.4 L13.3,4.6 Q14,5.5 13.3,6.4 L7.3,12.5 Z" fill="#3a3a3a"/><path d="M10.4,5.3 L12.4,7.3" stroke="#f8f8f7" stroke-width="0.7"/></g>
<g transform="translate(449.0,157.2)"><rect x="0.6" y="0.6" width="16.4" height="16.4" rx="2.6" fill="#f8f8f7" stroke="#3c3c3c" stroke-width="1.3"/><path d="M4.3,13.4 L5.2,10.4 L11.3,4.3 Q12.2,3.6 13.1,4.4 L13.3,4.6 Q14,5.5 13.3,6.4 L7.3,12.5 Z" fill="#3a3a3a"/><path d="M10.4,5.3 L12.4,7.3" stroke="#f8f8f7" stroke-width="0.7"/></g>
<g transform="translate(449.0,213.4)"><rect x="0.6" y="0.6" width="16.4" height="16.4" rx="2.6" fill="#f8f8f7" stroke="#3c3c3c" stroke-width="1.3"/><path d="M4.3,13.4 L5.2,10.4 L11.3,4.3 Q12.2,3.6 13.1,4.4 L13.3,4.6 Q14,5.5 13.3,6.4 L7.3,12.5 Z" fill="#3a3a3a"/><path d="M10.4,5.3 L12.4,7.3" stroke="#f8f8f7" stroke-width="0.7"/></g>
<g transform="translate(449.0,238.0)"><rect x="0.6" y="0.6" width="16.4" height="16.4" rx="2.6" fill="#f8f8f7" stroke="#3c3c3c" stroke-width="1.3"/><path d="M4.3,13.4 L5.2,10.4 L11.3,4.3 Q12.2,3.6 13.1,4.4 L13.3,4.6 Q14,5.5 13.3,6.4 L7.3,12.5 Z" fill="#3a3a3a"/><path d="M10.4,5.3 L12.4,7.3" stroke="#f8f8f7" stroke-width="0.7"/></g>
<g transform="translate(449.0,265.0)"><rect x="0.6" y="0.6" width="16.4" height="16.4" rx="2.6" fill="#f8f8f7" stroke="#3c3c3c" stroke-width="1.3"/><path d="M4.3,13.4 L5.2,10.4 L11.3,4.3 Q12.2,3.6 13.1,4.4 L13.3,4.6 Q14,5.5 13.3,6.4 L7.3,12.5 Z" fill="#3a3a3a"/><path d="M10.4,5.3 L12.4,7.3" stroke="#f8f8f7" stroke-width="0.7"/></g>
<g transform="translate(449.0,291.4)"><rect x="0.6" y="0.6" width="16.4" height="16.4" rx="2.6" fill="#f8f8f7" stroke="#3c3c3c" stroke-width="1.3"/><path d="M4.3,13.4 L5.2,10.4 L11.3,4.3 Q12.2,3.6 13.1,4.4 L13.3,4.6 Q14,5.5 13.3,6.4 L7.3,12.5 Z" fill="#3a3a3a"/><path d="M10.4,5.3 L12.4,7.3" stroke="#f8f8f7" stroke-width="0.7"/></g>
<g transform="translate(449.0,316.8)"><rect x="0.6" y="0.6" width="16.4" height="16.4" rx="2.6" fill="#f8f8f7" stroke="#3c3c3c" stroke-width="1.3"/><path d="M4.3,13.4 L5.2,10.4 L11.3,4.3 Q12.2,3.6 13.1,4.4 L13.3,4.6 Q14,5.5 13.3,6.4 L7.3,12.5 Z" fill="#3a3a3a"/><path d="M10.4,5.3 L12.4,7.3" stroke="#f8f8f7" stroke-width="0.7"/></g><rect x="17.6" y="154.4" width="481.1" height="25.8" fill="#7a7a7a" opacity="0.32"/><rect x="352.3" y="161.8" width="54.3" height="13" fill="#b6b6b6"/><text x="362.80" y="170.5" font-size="9.2" fill="#4d4d4d" textLength="31.42" lengthAdjust="spacingAndGlyphs">Paused</text></g>
<g transform="translate(875,613)"><use href="#sk"/><g transform="translate(442.4,78.2)"><rect x="0.6" y="0.6" width="16.4" height="16.4" rx="2.6" fill="#f8f8f7" stroke="#3c3c3c" stroke-width="1.3"/><path d="M4.3,13.4 L5.2,10.4 L11.3,4.3 Q12.2,3.6 13.1,4.4 L13.3,4.6 Q14,5.5 13.3,6.4 L7.3,12.5 Z" fill="#3a3a3a"/><path d="M10.4,5.3 L12.4,7.3" stroke="#f8f8f7" stroke-width="0.7"/></g>
<g transform="translate(442.4,104.2)"><rect x="0.6" y="0.6" width="16.4" height="16.4" rx="2.6" fill="#f8f8f7" stroke="#3c3c3c" stroke-width="1.3"/><path d="M4.3,13.4 L5.2,10.4 L11.3,4.3 Q12.2,3.6 13.1,4.4 L13.3,4.6 Q14,5.5 13.3,6.4 L7.3,12.5 Z" fill="#3a3a3a"/><path d="M10.4,5.3 L12.4,7.3" stroke="#f8f8f7" stroke-width="0.7"/></g>
<g transform="translate(442.4,131.2)"><rect x="0.6" y="0.6" width="16.4" height="16.4" rx="2.6" fill="#f8f8f7" stroke="#3c3c3c" stroke-width="1.3"/><path d="M4.3,13.4 L5.2,10.4 L11.3,4.3 Q12.2,3.6 13.1,4.4 L13.3,4.6 Q14,5.5 13.3,6.4 L7.3,12.5 Z" fill="#3a3a3a"/><path d="M10.4,5.3 L12.4,7.3" stroke="#f8f8f7" stroke-width="0.7"/></g>
<g transform="translate(442.4,213.4)"><rect x="0.6" y="0.6" width="16.4" height="16.4" rx="2.6" fill="#f8f8f7" stroke="#3c3c3c" stroke-width="1.3"/><path d="M4.3,13.4 L5.2,10.4 L11.3,4.3 Q12.2,3.6 13.1,4.4 L13.3,4.6 Q14,5.5 13.3,6.4 L7.3,12.5 Z" fill="#3a3a3a"/><path d="M10.4,5.3 L12.4,7.3" stroke="#f8f8f7" stroke-width="0.7"/></g>
<g transform="translate(442.4,238.0)"><rect x="0.6" y="0.6" width="16.4" height="16.4" rx="2.6" fill="#f8f8f7" stroke="#3c3c3c" stroke-width="1.3"/><path d="M4.3,13.4 L5.2,10.4 L11.3,4.3 Q12.2,3.6 13.1,4.4 L13.3,4.6 Q14,5.5 13.3,6.4 L7.3,12.5 Z" fill="#3a3a3a"/><path d="M10.4,5.3 L12.4,7.3" stroke="#f8f8f7" stroke-width="0.7"/></g>
<g transform="translate(442.4,265.0)"><rect x="0.6" y="0.6" width="16.4" height="16.4" rx="2.6" fill="#f8f8f7" stroke="#3c3c3c" stroke-width="1.3"/><path d="M4.3,13.4 L5.2,10.4 L11.3,4.3 Q12.2,3.6 13.1,4.4 L13.3,4.6 Q14,5.5 13.3,6.4 L7.3,12.5 Z" fill="#3a3a3a"/><path d="M10.4,5.3 L12.4,7.3" stroke="#f8f8f7" stroke-width="0.7"/></g>
<g transform="translate(442.4,291.4)"><rect x="0.6" y="0.6" width="16.4" height="16.4" rx="2.6" fill="#f8f8f7" stroke="#3c3c3c" stroke-width="1.3"/><path d="M4.3,13.4 L5.2,10.4 L11.3,4.3 Q12.2,3.6 13.1,4.4 L13.3,4.6 Q14,5.5 13.3,6.4 L7.3,12.5 Z" fill="#3a3a3a"/><path d="M10.4,5.3 L12.4,7.3" stroke="#f8f8f7" stroke-width="0.7"/></g>
<g transform="translate(442.4,316.8)"><rect x="0.6" y="0.6" width="16.4" height="16.4" rx="2.6" fill="#f8f8f7" stroke="#3c3c3c" stroke-width="1.3"/><path d="M4.3,13.4 L5.2,10.4 L11.3,4.3 Q12.2,3.6 13.1,4.4 L13.3,4.6 Q14,5.5 13.3,6.4 L7.3,12.5 Z" fill="#3a3a3a"/><path d="M10.4,5.3 L12.4,7.3" stroke="#f8f8f7" stroke-width="0.7"/></g><rect x="17.6" y="151.5" width="481.1" height="28.7" fill="#7a7a7a" opacity="0.32"/><rect x="352.3" y="159.1" width="54.3" height="13" fill="#b6b6b6"/><text x="362.80" y="167.9" font-size="9.2" fill="#4d4d4d" textLength="31.42" lengthAdjust="spacingAndGlyphs">Paused</text><g transform="translate(442.4,156.5)"><rect x="0.6" y="0.6" width="16.4" height="16.4" rx="2.6" fill="#c3c3c3" stroke="#3c3c3c" stroke-width="1.3"/><path d="M4.3,13.4 L5.2,10.4 L11.3,4.3 Q12.2,3.6 13.1,4.4 L13.3,4.6 Q14,5.5 13.3,6.4 L7.3,12.5 Z" fill="#3a3a3a"/><path d="M10.4,5.3 L12.4,7.3" stroke="#c3c3c3" stroke-width="0.7"/></g><rect x="375.3" y="174.8" width="83.8" height="25.4" rx="3" fill="#ffffff" stroke="#c4c4c4" stroke-width="1"/><text x="388.60" y="192" font-size="10.5" fill="#74addf" textLength="57.32" lengthAdjust="spacingAndGlyphs">Restart Line</text><path transform="translate(449.2,196.0) scale(1.12)" d="M0,0 L0,11.5 L2.8,8.9 L4.8,13.2 L6.6,12.4 L4.7,8.3 L8.4,8.3 Z" fill="#111" stroke="#fff" stroke-width="0.9" stroke-linejoin="round"/></g>
</svg>
</body></html>
